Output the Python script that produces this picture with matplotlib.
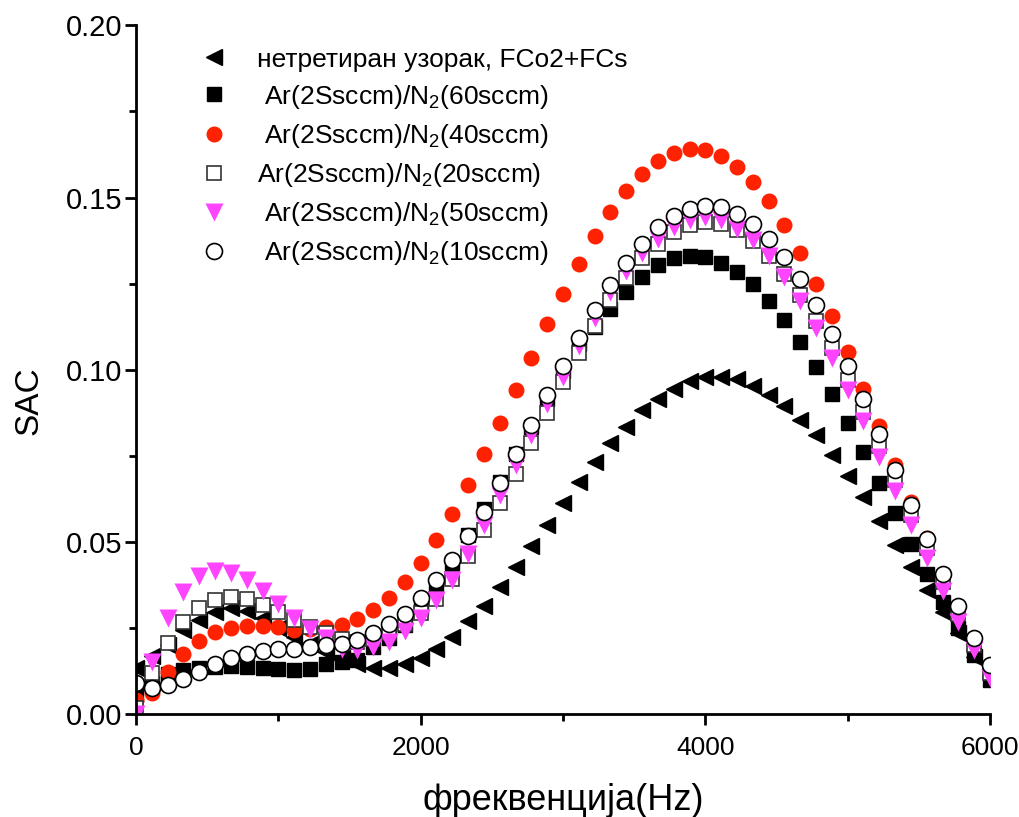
import numpy as np
import matplotlib
matplotlib.use("Agg")
import matplotlib.pyplot as plt
from matplotlib.ticker import MultipleLocator

plt.rcParams['font.family'] = ['Liberation Sans', 'DejaVu Sans']
plt.rcParams['mathtext.fontset'] = 'custom'
plt.rcParams['mathtext.rm'] = 'Liberation Sans'
plt.rcParams['mathtext.it'] = 'Liberation Sans'

# measurement grid, 0..6000 Hz
freq = np.linspace(0, 6000, 55)

untreated = [0.0135, 0.017, 0.020, 0.0244, 0.0273, 0.0297, 0.0307, 0.030, 0.028, 0.025,
             0.0224, 0.0203, 0.018, 0.0162, 0.0145, 0.0133, 0.0133, 0.0145, 0.0164, 0.019,
             0.0224, 0.027, 0.0315, 0.037, 0.0428, 0.0489, 0.0549, 0.0613, 0.0674, 0.0732,
             0.0786, 0.0834, 0.0882, 0.0916, 0.0945, 0.0967, 0.0978, 0.0979, 0.0972, 0.0952,
             0.0926, 0.0894, 0.0853, 0.081, 0.0752, 0.0691, 0.0629, 0.0561, 0.049, 0.0428,
             0.036, 0.0297, 0.0234, 0.0166, 0.0108]
n2_60 = [0.0055, 0.009, 0.0115, 0.0128, 0.0134, 0.0138, 0.014, 0.0138, 0.0134, 0.013,
         0.0128, 0.013, 0.0144, 0.0152, 0.0157, 0.0195, 0.022, 0.026, 0.031, 0.037,
         0.044, 0.052, 0.0595, 0.0675, 0.0755, 0.0835, 0.0915, 0.0995, 0.1075, 0.1125,
         0.1175, 0.1226, 0.127, 0.1303, 0.1323, 0.133, 0.1326, 0.131, 0.1284, 0.125,
         0.120, 0.1144, 0.108, 0.1008, 0.093, 0.0846, 0.0761, 0.0671, 0.0583, 0.0493,
         0.0406, 0.0326, 0.0249, 0.0171, 0.0099]
n2_40 = [0.004, 0.006, 0.0123, 0.0173, 0.0213, 0.0239, 0.0249, 0.0255, 0.0255, 0.0252,
         0.0245, 0.0246, 0.0252, 0.0259, 0.0276, 0.0302, 0.0337, 0.0384, 0.044, 0.0506,
         0.058, 0.0665, 0.0755, 0.0846, 0.094, 0.1035, 0.1132, 0.1221, 0.1307, 0.1388,
         0.1458, 0.1518, 0.1567, 0.1606, 0.163, 0.164, 0.1637, 0.162, 0.1589, 0.1545,
         0.149, 0.142, 0.1339, 0.125, 0.1155, 0.1052, 0.0945, 0.0836, 0.0723, 0.0616,
         0.051, 0.0405, 0.031, 0.022, 0.013]
n2_20 = [0.0017, 0.012, 0.0207, 0.0268, 0.0309, 0.0331, 0.0339, 0.0333, 0.0318, 0.0297,
         0.0273, 0.0252, 0.0234, 0.0218, 0.021, 0.0218, 0.0235, 0.0262, 0.0293, 0.0333,
         0.0391, 0.0459, 0.0535, 0.0613, 0.0697, 0.0786, 0.0873, 0.0965, 0.1049, 0.1126,
         0.1202, 0.1265, 0.1323, 0.1366, 0.140, 0.1421, 0.1429, 0.1422, 0.1405, 0.1373,
         0.133, 0.1279, 0.1216, 0.1142, 0.1062, 0.0971, 0.0878, 0.0778, 0.0679, 0.0578,
         0.0481, 0.0384, 0.0292, 0.020, 0.012]
n2_50 = [0.000, 0.015, 0.028, 0.0355, 0.040, 0.0415, 0.041, 0.039, 0.0357, 0.032,
         0.028, 0.0246, 0.022, 0.019, 0.0185, 0.0195, 0.021, 0.024, 0.028, 0.033,
         0.039, 0.0466, 0.055, 0.0636, 0.0723, 0.081, 0.090, 0.098, 0.107, 0.115,
         0.1226, 0.1287, 0.134, 0.138, 0.1415, 0.1436, 0.1442, 0.1436, 0.141, 0.1376,
         0.133, 0.1268, 0.120, 0.112, 0.1035, 0.094, 0.085, 0.0747, 0.0647, 0.055,
         0.0452, 0.0357, 0.0268, 0.0186, 0.0104]
n2_10 = [0.0089, 0.0075, 0.0084, 0.0101, 0.0123, 0.0144, 0.0162, 0.0174, 0.0184, 0.0189,
         0.019, 0.0194, 0.020, 0.0204, 0.0215, 0.0234, 0.0261, 0.0292, 0.0336, 0.0389,
         0.0447, 0.0516, 0.0588, 0.067, 0.0755, 0.0839, 0.0926, 0.101, 0.1093, 0.1173,
         0.1245, 0.131, 0.1366, 0.1413, 0.1446, 0.1468, 0.1475, 0.1471, 0.1453, 0.1422,
         0.138, 0.1326, 0.1262, 0.1187, 0.1103, 0.1012, 0.0916, 0.0813, 0.071, 0.0607,
         0.0507, 0.0406, 0.0313, 0.0221, 0.0142]

labels = ['нетретиран узорак, FCo2+FCs',
          ' Ar(2Ssccm)/N$_2$(60sccm)',
          ' Ar(2Ssccm)/N$_2$(40sccm)',
          'Ar(2Ssccm)/N$_2$(20sccm)',
          ' Ar(2Ssccm)/N$_2$(50sccm)',
          ' Ar(2Ssccm)/N$_2$(10sccm)']

fig = plt.figure(figsize=(10.19, 8.17), dpi=100)
ax = fig.add_axes([0.1335, 0.126, 0.838, 0.843])

ax.plot(freq, untreated, ls='none', marker='<', ms=12, color='black', label=labels[0])
ax.plot(freq, n2_60, ls='none', marker='s', ms=10, color='black', label=labels[1])
ax.plot(freq, n2_40, ls='none', marker='o', ms=11.5, color='#ff2200', mec='none', label=labels[2])
ax.plot(freq, n2_20, ls='none', marker='s', ms=10, mfc='white', mec='#333333', mew=1.2, label=labels[3])
ax.plot(freq, n2_50, ls='none', marker='v', ms=12.5, color='#ff44ff', mec='none', label=labels[4])
ax.plot(freq, n2_10, ls='none', marker='o', ms=11.5, mfc='white', mec='black', mew=1.2, label=labels[5])

ax.set_xlim(0, 6000)
ax.set_ylim(0, 0.20)
ax.xaxis.set_major_locator(MultipleLocator(2000))
ax.xaxis.set_minor_locator(MultipleLocator(1000))
ax.yaxis.set_major_locator(MultipleLocator(0.05))
ax.yaxis.set_minor_locator(MultipleLocator(0.025))
ax.yaxis.set_major_formatter(plt.FormatStrFormatter('%.2f'))

for s in ['top', 'right']:
    ax.spines[s].set_visible(False)
for s in ['left', 'bottom']:
    ax.spines[s].set_linewidth(2)
ax.tick_params(which='major', direction='out', length=8, width=2)
ax.tick_params(axis='y', which='major', labelsize=21, pad=2)
ax.tick_params(axis='x', which='major', labelsize=19, pad=8)
ax.tick_params(which='minor', direction='out', length=5, width=2)

ax.set_xlabel('фреквенција(Hz)', fontsize=26)
ax.set_ylabel('SAC', fontsize=24)
ax.xaxis.set_label_coords(0.5, -0.1)
ax.yaxis.set_label_coords(-0.107, 0.455)

ax.legend(loc='upper left', bbox_to_anchor=(0.064, 0.983), frameon=False, fontsize=19,
          handlelength=1.0, handletextpad=1.1, labelspacing=0.42, borderaxespad=0)

fig.savefig('out.png', dpi=100)
